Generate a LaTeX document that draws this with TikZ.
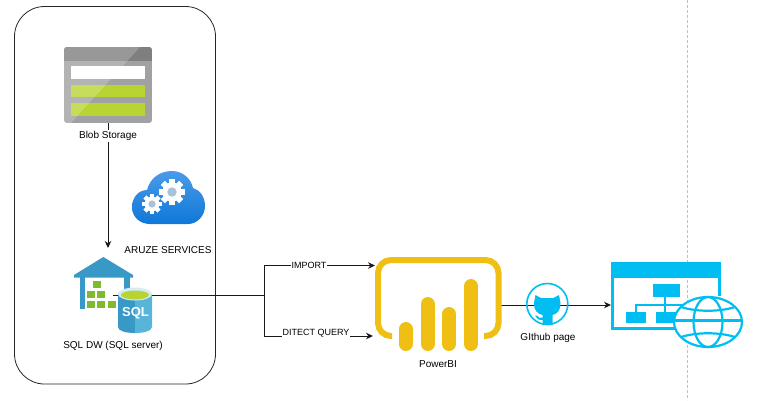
\documentclass[tikz,border=0pt]{standalone}
\usepackage{fontspec}
\setmainfont{Liberation Sans}
\usetikzlibrary{arrows.meta}
\definecolor{blobgrey}{HTML}{A0A1A2}
\definecolor{blobtop}{HTML}{7F7F7F}
\definecolor{blobgreen}{HTML}{B8D432}
\definecolor{cloudblue}{HTML}{0F78D8}
\definecolor{cloudlight}{HTML}{4A9BE8}
\definecolor{hubgrey}{HTML}{A9C1DA}
\definecolor{dwblue}{HTML}{3999C6}
\definecolor{dwlight}{HTML}{59B4D9}
\definecolor{dwgreen}{HTML}{7FBA2F}
\definecolor{pbiyellow}{HTML}{F0BF14}
\definecolor{sitecyan}{HTML}{00BEF2}
\tikzset{
  link/.style={line width=1pt, draw=black!90},
  arrowlink/.style={link, -{Stealth[length=7pt,width=6.5pt]}},
  lbl/.style={font=\fontsize{10}{12}\selectfont, inner sep=1pt},
  edgelbl/.style={font=\fontsize{9}{11}\selectfont, fill=white, inner sep=1pt},
  iconbox/.style={inner sep=0pt, minimum width=#1},
}
\newcommand{\gearicon}[3]{%
  \foreach \a in {0,45,...,315}
    \fill[white, rotate around={\a:(#1,#2)}] (#1-#3*0.22,#2) rectangle (#1+#3*0.22,#2-#3);
  \fill[white] (#1,#2) circle[radius=#3*0.74];
  \fill[hubgrey] (#1,#2) circle[radius=#3*0.36];
}
\begin{document}
\begin{tikzpicture}[x=1pt, y=-1pt]
  \useasboundingbox (0,0) rectangle (770,400);
  %%frames
  \draw[black!85, line width=.8pt, rounded corners=30pt] (14.5,6.5) rectangle (215.5,384);
  \draw[black!25, line width=.6pt, densely dashed] (687,0) -- (687,400);

  %%nodes the connectors hang on
  \node[iconbox=88, minimum height=76] (blob) at (108,85) {};
  \coordinate (dwin) at (108,248);
  \coordinate (dwout) at (113,295.5);
  \coordinate (branch) at (264,295.5);
  \coordinate (pbiimport) at (375,265.5);
  \coordinate (pbidirect) at (373,336);
  \coordinate (pbiout) at (501,305);
  \coordinate (sitein) at (611,305);

  %%warehouse
  \fill[dwblue] (103.3,257) -- (133,275) -- (133,277.5) -- (74,277.5) -- (74,275) -- cycle;
  \fill[dwblue] (80,277) rectangle (85,309);
  \fill[dwblue] (124,277) rectangle (130,293);
  \foreach \x/\y in {96.7/284.3, 90.7/294.3, 101/294.3, 90.7/304.3, 101/304.3, 111.7/304.3}
    \fill[dwgreen] (\x-3.8,\y-3.8) rectangle (\x+3.8,\y+3.8);

  %%connectors
  \draw[arrowlink] (blob) -- (dwin);
  \node[lbl, fill=white] (bloblabel) at (108,136) {Blob Storage};
  \draw[link] (dwout) -- (branch);
  \draw[arrowlink] (branch) |- (pbiimport);
  \draw[arrowlink] (branch) |- (pbidirect);
  \node[edgelbl] (importlabel) at (309,265) {IMPORT};
  \node[edgelbl] (directlabel) at (316,333) {DITECT QUERY};
  \draw[arrowlink] (pbiout) -- (sitein);

  %%blob
  \begin{scope}
    \clip[rounded corners=3pt] (64,47) rectangle (152,123);
    \fill[blobgrey] (64,47) rectangle (152,123);
    \fill[blobtop] (64,47) rectangle (152,61);
    \fill[white] (71,66) rectangle (145,79);
    \fill[blobgreen] (71,85) rectangle (145,97);
    \fill[blobgreen] (71,103) rectangle (145,115.5);
    \fill[white, opacity=.2] (64,47) -- (140,47) -- (71,123) -- (64,123) -- cycle;
  \end{scope}

  %%cloud
  \shade[top color=cloudlight, bottom color=cloudblue]
    (150,224) .. controls (140,224) and (132,217) .. (132,207)
    .. controls (132,197) and (139,190) .. (147,190)
    .. controls (150,178) and (160,171) .. (172,171)
    .. controls (182,171) and (191,178) .. (193,188)
    .. controls (200,190) and (205,197) .. (205,206)
    .. controls (205,216) and (197,224) .. (188,224) -- cycle;
  \gearicon{172}{192}{13}
  \gearicon{152}{204}{10}
  \node[lbl] (cloudlabel) at (168,250) {ARUZE SERVICES};

  %%cylinder
  \fill[dwblue] (118,294) -- (118,327) .. controls (118,331) and (126,333) .. (135,333) -- (135,294) -- cycle;
  \fill[dwlight] (135,294) -- (135,333) .. controls (144,333) and (152,331) .. (152,327) -- (152,294) -- cycle;
  \fill[white!75!dwlight] (135,294) ellipse[x radius=17, y radius=6.5];
  \fill[blobgreen] (135,295) ellipse[x radius=14, y radius=4.5];
  \node[font=\bfseries\fontsize{13}{15}\selectfont, text=white, inner sep=0pt] (sqltext) at (135.5,313) {SQL};
  \node[lbl] (dwlabel) at (113,345.5) {SQL DW (SQL server)};

  %%powerbi
  \draw[pbiyellow, line width=6pt, rounded corners=13pt]
    (392,336) -- (378,336) -- (378,260) -- (498.5,260) -- (498.5,336) -- (484,336);
  \foreach \x/\y in {405.8/329, 427.5/304, 449/314, 471/286}
    \draw[pbiyellow, line width=14pt, line cap=round] (\x,\y) -- (\x,344);
  \node[lbl] (pbilabel) at (438,364) {PowerBI};

  %%github
  \node[draw=sitecyan, line width=1.6pt, circle, minimum size=41pt, inner sep=0pt] (github) at (547.3,304) {};
  \fill[sitecyan] (535.5,295) -- (541,298) -- (553.5,298) -- (559,295) -- (560.5,303)
    .. controls (561,310) and (557,314) .. (552.5,315) -- (552.5,324.5) -- (542.5,324.5) -- (542.5,320)
    .. controls (538,320.5) and (536.5,318) .. (535,315.5) -- (537,315.5)
    .. controls (538.5,318) and (540,318) .. (542.5,317.5) -- (542.5,315)
    .. controls (537.5,314) and (533.5,310) .. (534,303) -- cycle;
  \node[lbl] (githublabel) at (548,338) {GIthub page};

  %%site
  \draw[sitecyan, line width=3pt] (612,277) -- (612,328.7) -- (690,328.7);
  \draw[sitecyan, line width=3pt] (719.2,277) -- (719.2,296);
  \fill[sitecyan] (610.7,262) rectangle (720.7,277.7);
  \fill[sitecyan] (653,283.5) rectangle (680,297);
  \fill[sitecyan] (626,312) rectangle (646,323);
  \fill[sitecyan] (656,312) rectangle (676,323);
  \draw[sitecyan, line width=2pt] (665,297) -- (665,312);
  \draw[sitecyan, line width=2pt] (636,312) -- (636,304.5) -- (690,304.5);
  %%globe
  \filldraw[fill=white, draw=sitecyan, line width=2.2pt] (708,322) ellipse[x radius=34, y radius=25];
  \draw[sitecyan, line width=2.2pt] (708,322) ellipse[x radius=14.5, y radius=25];
  \draw[sitecyan, line width=2.2pt] (674,320.5) -- (742,320.5);
  \draw[sitecyan, line width=2.2pt] (681,307) .. controls (697,312) and (719,312) .. (735,307);
  \draw[sitecyan, line width=2.2pt] (681,337) .. controls (697,332) and (719,332) .. (735,337);
\end{tikzpicture}
\end{document}
